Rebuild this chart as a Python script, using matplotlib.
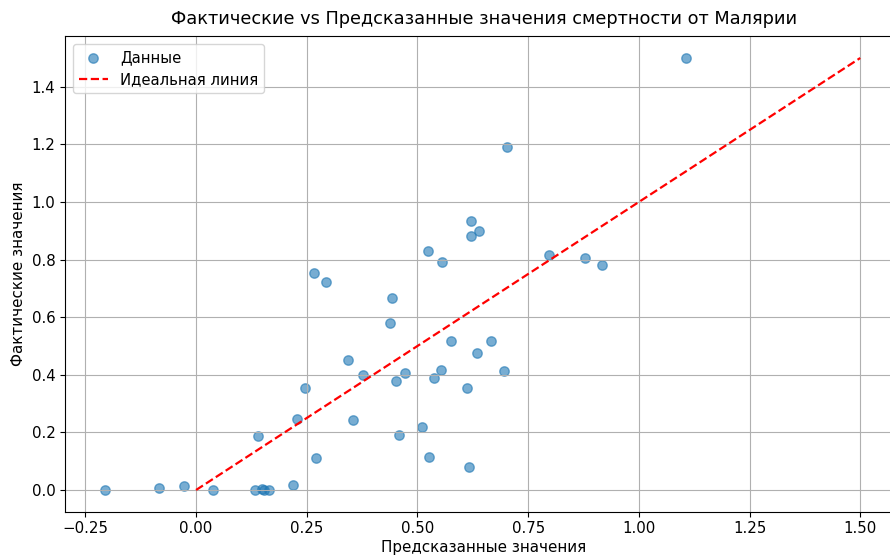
import matplotlib
matplotlib.use("Agg")
import matplotlib.pyplot as plt
import numpy as np

# Predicted vs actual malaria mortality values
predicted = [1.106, 0.703, 0.620, 0.638, 0.620, 0.523, 0.555, 0.796, 0.878, 0.916,
             0.266, 0.293, 0.443, 0.438, 0.575, 0.667, 0.635, 0.344, 0.378, 0.473,
             0.451, 0.553, 0.538, 0.696, 0.611, 0.247, 0.229, 0.354, 0.510, 0.140,
             0.458, 0.271, 0.526, 0.616, -0.206, -0.084, -0.028, 0.038, 0.133, 0.149,
             0.154, 0.164, 0.220]
actual = [1.500, 1.190, 0.935, 0.899, 0.881, 0.831, 0.793, 0.816, 0.806, 0.780,
          0.752, 0.722, 0.667, 0.580, 0.517, 0.517, 0.477, 0.451, 0.400, 0.405,
          0.379, 0.416, 0.390, 0.413, 0.355, 0.355, 0.246, 0.244, 0.219, 0.186,
          0.191, 0.111, 0.115, 0.080, 0.000, 0.008, 0.015, 0.000, 0.000, 0.002,
          0.000, 0.000, 0.019]

fig = plt.figure(figsize=(8.9, 5.58), dpi=100)
# axes run slightly past the right edge of the canvas
ax = fig.add_axes([65.2 / 890, 46.4 / 558, 837.0 / 890, 475.2 / 558])

ax.scatter(predicted, actual, alpha=0.6, s=46, label="Данные")
lo, hi = min(actual), max(actual)
ax.plot([lo, hi], [lo, hi], "r--", lw=1.6, label="Идеальная линия")

ax.set_xlim(-0.2955, -0.2955 + 837.0 / 442.8)
ax.set_ylim(-0.075, 1.575)
ax.set_xticks([-0.25, 0.0, 0.25, 0.5, 0.75, 1.0, 1.25, 1.5])
ax.set_yticks([0.0, 0.2, 0.4, 0.6, 0.8, 1.0, 1.2, 1.4])
ax.tick_params(labelsize=10.8)

ax.set_title("Фактические vs Предсказанные значения смертности от Малярии", fontsize=12.8, pad=9)
ax.set_xlabel("Предсказанные значения", fontsize=10.9, labelpad=3)
ax.set_ylabel("Фактические значения", fontsize=10.9)
ax.legend(loc="upper left", fontsize=10.7)
ax.grid(True)

fig.savefig("out.png", dpi=100)
